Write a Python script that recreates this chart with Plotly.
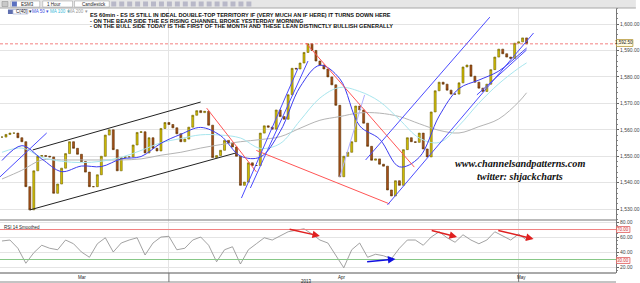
import plotly.graph_objects as go
from plotly.subplots import make_subplots

# ---------------- data ----------------
bars = list(range(133))
close = [1557.25, 1558.25, 1558.75, 1558.75, 1557.0, 1555.5, 1538.5, 1529.75, 1544.5, 1550.0,
         1550.25, 1550.0, 1549.75, 1536.0, 1539.5, 1545.5, 1551.0, 1555.5, 1553.0, 1550.75,
         1548.0, 1544.0, 1538.5, 1538.5, 1543.0, 1550.0, 1558.0, 1560.0, 1552.5, 1544.5,
         1549.5, 1549.75, 1549.75, 1554.25, 1559.0, 1559.25, 1551.25, 1557.0, 1553.0, 1552.0,
         1560.5, 1562.75, 1562.0, 1560.75, 1558.5, 1555.5, 1556.5, 1561.0, 1565.5, 1567.25,
         1566.5, 1567.0, 1561.75, 1549.5, 1550.25, 1552.25, 1556.0, 1555.0, 1553.5, 1550.0,
         1539.0, 1540.25, 1547.5, 1546.5, 1546.5, 1558.75, 1561.5, 1561.0, 1560.25, 1567.5,
         1565.0, 1564.0, 1573.25, 1583.25, 1583.0, 1585.25, 1589.25, 1592.5, 1590.0, 1586.0,
         1584.5, 1583.0, 1580.0, 1577.0, 1569.25, 1542.25, 1550.0, 1551.5, 1555.5, 1569.0,
         1567.5, 1562.5, 1553.75, 1548.5, 1549.0, 1547.0, 1546.25, 1537.25, 1535.0, 1540.75,
         1539.0, 1552.5, 1557.0, 1555.5, 1555.25, 1558.75, 1552.75, 1549.75, 1566.75, 1574.75,
         1578.0, 1577.25, 1575.0, 1573.5, 1573.5, 1577.75, 1583.75, 1584.5, 1580.25, 1578.0,
         1575.75, 1574.5, 1577.25, 1582.75, 1587.5, 1590.5, 1588.75, 1587.5, 1587.0, 1592.75,
         1593.25, 1594.75, 1592.5]
open_ = [close[0]] + close[:-1]
high = [max(o, c) for o, c in zip(open_, close)]
low = [min(o, c) for o, c in zip(open_, close)]

ma_bars = [0, 5, 10, 15, 20, 25, 30, 35, 40, 45, 50, 55, 60, 65, 70, 75, 80, 85, 90, 95,
           100, 105, 110, 115, 120, 125, 130, 132]
ma50 = [1548.4, 1554.0, 1549.0, 1544.2, 1546.3, 1546.1, 1549.0, 1549.9, 1554.9, 1558.3,
        1560.9, 1557.8, 1550.1, 1549.7, 1559.4, 1576.2, 1584.4, 1579.3, 1561.5, 1556.5,
        1546.0, 1549.6, 1565.2, 1575.6, 1578.8, 1582.2, 1588.3, 1590.9]
ma100 = [1551.5, 1553.1, 1549.6, 1548.1, 1547.6, 1548.1, 1549.6, 1552.2, 1555.1, 1556.7,
         1558.1, 1558.0, 1556.9, 1553.0, 1554.8, 1563.5, 1572.0, 1576.0, 1574.5, 1570.7,
         1563.9, 1556.9, 1555.2, 1561.6, 1570.1, 1577.4, 1583.3, 1585.3]
ma200 = [1541.4, 1544.7, 1548.6, 1548.6, 1548.6, 1548.6, 1548.6, 1549.0, 1550.4, 1551.5,
         1553.1, 1554.4, 1555.5, 1556.3, 1557.4, 1560.6, 1563.6, 1565.0, 1566.4, 1566.3,
         1565.0, 1562.3, 1559.8, 1558.8, 1561.2, 1564.1, 1570.5, 1574.0]

rsi_bars = list(range(0, 133, 2))
rsi = [54.7, 56, 45, 25, 39, 49, 45, 43, 56, 51, 40, 33, 51, 59, 40, 52, 56, 59, 36, 52,
       60, 61, 43, 45, 56, 60, 49, 27, 43, 47, 24, 43, 51, 59, 56, 61, 67, 69, 71, 64,
       56, 52, 36, 19, 43, 52, 33, 37, 35, 31, 45, 56, 56, 49, 60, 67, 59, 53, 63, 56,
       51, 56, 67, 61, 56, 64, 56]

last_price = 1592.5
price_ticks = [1530, 1540, 1550, 1560, 1570, 1580, 1590, 1600]
rsi_ticks = [20, 40, 60, 80]
rsi_levels = [70, 30]

# trendlines: (bar0, price0, bar1, price1, colour)
trendlines = [
    (7.75, 1552.4, 50.0, 1570.5, "#222222"),
    (7.0, 1529.7, 58.75, 1551.2, "#222222"),
    (-0.5, 1542.2, 11.25, 1558.8, "#4b4bff"),
    (51.5, 1568.2, 64.0, 1544.1, "#ff5555"),
    (64.0, 1552.2, 97.5, 1532.0, "#ff5555"),
    (76.5, 1592.8, 103.75, 1545.9, "#ff5555"),
    (60.25, 1534.2, 74.5, 1583.3, "#4b4bff"),
    (62.5, 1538.0, 77.0, 1586.0, "#4b4bff"),
    (85.0, 1542.2, 91.25, 1573.2, "#b0b0ff"),
    (91.5, 1548.6, 122.75, 1602.6, "#4b4bff"),
    (97.0, 1531.6, 133.75, 1596.6, "#4b4bff"),
    (119.5, 1573.2, 132.0, 1590.2, "#4b4bff"),
]
# RSI divergence arrows: (bar0, rsi0, bar1, rsi1, colour)
rsi_arrows = [
    (72.0, 70.7, 80.0, 61.3, "#e02020"),
    (107.75, 69.3, 114.5, 60.0, "#e02020"),
    (124.5, 69.3, 133.75, 57.3, "#e02020"),
    (91.5, 26.7, 99.0, 30.7, "#1010e0"),
]
month_labels = ["Mar", "Apr", "May"]
month_pos = [20.25, 85.5, 130.75]
month_bounds = [42, 130]
year_label = "2013"
year_pos = 76.5

title_lines = [
    "ES 60min - ES IS STILL IN IDEAL DOUBLE-TOP TERRITORY IF (VERY MUCH AN IF HERE) IT TURNS DOWN HERE",
    "- ON THE BEAR SIDE THE ES RISING CHANNEL BROKE YESTERDAY MORNING",
    "- ON THE BULL SIDE TODAY IS THE FIRST OF THE MONTH AND THESE LEAN DISTINCTLY BULLISH GENERALLY",
]

# ---------------- layout geometry ----------------
W, H = 640, 283
ML, MR, MT, MB = 0, 20, 8, 10
PW, PH = W - ML - MR, H - MT - MB


def px(x):
    return (x - ML) / PW


def py(y):
    return (H - MB - y) / PH


fig = make_subplots(rows=2, cols=1, shared_xaxes=True, vertical_spacing=0)

fig.add_trace(go.Candlestick(
    x=bars, open=open_, high=high, low=low, close=close,
    increasing=dict(fillcolor="#d6c400", line=dict(color="#6e5e00", width=0.6)),
    decreasing=dict(fillcolor="#a8501a", line=dict(color="#5a3200", width=0.6)),
    whiskerwidth=0, showlegend=False, hoverinfo="skip"), row=1, col=1)

for vals, col in [(ma200, "#b4b4b4"), (ma100, "#a8e6ee"), (ma50, "#3c3cf0")]:
    fig.add_trace(go.Scatter(x=ma_bars, y=vals, mode="lines", line=dict(color=col, width=1, shape="spline"),
                             showlegend=False, hoverinfo="skip"), row=1, col=1)

fig.add_trace(go.Scatter(x=rsi_bars, y=rsi, mode="lines", line=dict(color="#8a8a8a", width=0.8),
                         showlegend=False, hoverinfo="skip"), row=2, col=1)

# horizontal last-price line
fig.add_shape(type="line", xref="paper", yref="y", x0=0, x1=1, y0=last_price, y1=last_price,
              line=dict(color="#f06060", width=0.8, dash="3px,2px"))

for b0, p0, b1, p1, c in trendlines:
    fig.add_shape(type="line", xref="x", yref="y", x0=b0, y0=p0, x1=b1, y1=p1,
                  line=dict(color=c, width=1))

for lv, c in zip(rsi_levels, ["#f08080", "#88c888"]):
    fig.add_shape(type="line", xref="paper", yref="y2", x0=0, x1=1, y0=lv, y1=lv,
                  line=dict(color=c, width=1))

for b0, r0, b1, r1, c in rsi_arrows:
    fig.add_annotation(x=b1, y=r1, ax=b0, ay=r0, xref="x2", yref="y2", axref="x2", ayref="y2",
                       showarrow=True, arrowhead=2, arrowsize=1, arrowwidth=1.5, arrowcolor=c, text="")

# axes
fig.update_xaxes(range=[-0.5, 154.5], showticklabels=False, showgrid=True, gridcolor="#e4e4e4",
                 tickvals=month_bounds, zeroline=False, rangeslider_visible=False, showline=False,
                 ticks="")
fig.update_yaxes(side="right", showgrid=True, gridcolor="#e4e4e4", zeroline=False,
                 ticks="outside", ticklen=2, tickcolor="#666", showline=True, linecolor="#777",
                 linewidth=1, tickfont=dict(family="Liberation Sans", size=5, color="#444"),
                 minor=dict(ticks="outside", ticklen=1, tickcolor="#888"))
fig.update_layout(
    yaxis=dict(domain=[0.2, 1], range=[1525.9, 1606.05], tickvals=price_ticks, tickformat=",.2f",
               minor=dict(dtick=2)),
    yaxis2=dict(domain=[0, 0.2], range=[12, 82.7], tickvals=rsi_ticks, tickformat=".2f",
                minor=dict(dtick=5)),
)

shapes = []
# toolbar
shapes.append(dict(type="rect", xref="paper", yref="paper", x0=0, x1=px(W), y0=py(8), y1=py(0),
                   fillcolor="#e6e6e6", line=dict(width=0), layer="above"))
shapes.append(dict(type="line", xref="paper", yref="paper", x0=0, x1=px(W), y0=py(8), y1=py(8),
                   line=dict(color="#a8a8a8", width=1)))
for x0, x1 in [(11, 40), (43, 73), (75, 110)]:
    shapes.append(dict(type="rect", xref="paper", yref="paper", x0=px(x0), x1=px(x1), y0=py(7), y1=py(1),
                       fillcolor="white", line=dict(color="#9a9a9a", width=0.5)))
for x0 in range(112, 250, 8):
    shapes.append(dict(type="rect", xref="paper", yref="paper", x0=px(x0), x1=px(x0 + 5), y0=py(6.5), y1=py(1.5),
                       fillcolor="#b8b8c8", line=dict(width=0)))
shapes.append(dict(type="rect", xref="paper", yref="paper", x0=px(12), x1=px(17), y0=py(6.5), y1=py(1.5),
                   fillcolor="#5a70c0", line=dict(width=0)))
shapes.append(dict(type="rect", xref="paper", yref="paper", x0=px(2), x1=px(8), y0=py(6.5), y1=py(1.5),
                   fillcolor="#c8c8c8", line=dict(color="#888", width=0.5)))
# legend row boxes
shapes.append(dict(type="rect", xref="paper", yref="paper", x0=px(8), x1=px(13), y0=py(14), y1=py(9.5),
                   fillcolor="#6070b0", line=dict(width=0)))
shapes.append(dict(type="rect", xref="paper", yref="paper", x0=px(13), x1=px(28), y0=py(14), y1=py(9.5),
                   fillcolor="white", line=dict(color="#8090c0", width=0.5)))
# bottom axis lines
shapes.append(dict(type="line", xref="paper", yref="paper", x0=0, x1=1, y0=py(273), y1=py(273),
                   line=dict(color="#555", width=1)))
shapes.append(dict(type="line", xref="paper", yref="paper", x0=0, x1=1, y0=py(282), y1=py(282),
                   line=dict(color="#888", width=1)))
shapes.append(dict(type="line", xref="paper", yref="paper", x0=0, x1=1, y0=py(220), y1=py(220),
                   line=dict(color="#777", width=1)))
for b in month_bounds:
    shapes.append(dict(type="line", xref="x2", yref="paper", x0=b, x1=b, y0=py(282), y1=py(273),
                       line=dict(color="#777", width=1)))
# price box on axis
shapes.append(dict(type="rect", xref="paper", yref="paper", x0=px(620.5), x1=px(637), y0=py(46.5), y1=py(39.5),
                   fillcolor="#fffbe0", line=dict(color="#b89a40", width=0.8)))
for yy in [229.5, 260.5]:
    shapes.append(dict(type="rect", xref="paper", yref="paper", x0=px(620.5), x1=px(634), y0=py(yy + 3), y1=py(yy - 3),
                       fillcolor="#fff4f4", line=dict(color="#e06060", width=0.8)))
fig.update_layout(shapes=list(fig.layout.shapes) + shapes)

ann = []
tb_font = dict(family="Liberation Sans", size=4.5, color="#222")
ann.append(dict(x=px(19), y=py(4), text="ESM3", xanchor="left"))
ann.append(dict(x=px(45), y=py(4), text="1 Hour", xanchor="left"))
ann.append(dict(x=px(81), y=py(4), text="Candlestick", xanchor="left"))
ann.append(dict(x=px(14), y=py(11.8), text="C(40) ▾", xanchor="left"))
ann.append(dict(x=px(30), y=py(11.8), text="MA 50 ▾", xanchor="left", font=dict(family="Liberation Sans", size=4.5, color="#4050e0")))
ann.append(dict(x=px(48), y=py(11.8), text="MA 100 ▾", xanchor="left", font=dict(family="Liberation Sans", size=4.5, color="#40b8d8")))
ann.append(dict(x=px(66), y=py(11.8), text="MA 200 ▾", xanchor="left", font=dict(family="Liberation Sans", size=4.5, color="#999")))
ann.append(dict(x=px(2), y=py(227), text="RSI 14 Smoothed", xanchor="left"))
ann.append(dict(x=px(628.5), y=py(43), text="1,592.50", xanchor="center", font=dict(family="Liberation Sans", size=4.5, color="#222")))
ann.append(dict(x=px(627), y=py(229.5), text="70.00", xanchor="center", font=dict(family="Liberation Sans", size=4.5, color="#d04040")))
ann.append(dict(x=px(627), y=py(260.5), text="30.00", xanchor="center", font=dict(family="Liberation Sans", size=4.5, color="#d04040")))
for a in ann:
    a.setdefault("font", tb_font)
    a.update(xref="paper", yref="paper", yanchor="middle", showarrow=False)
    fig.add_annotation(**a)

for i, (t, yy) in enumerate(zip(title_lines, [15, 20.7, 26.2])):
    fig.add_annotation(xref="paper", yref="paper", x=px(89), y=py(yy), text=t, xanchor="left", yanchor="middle",
                       showarrow=False, font=dict(family="Liberation Sans", size=5.6, color="#111", weight="bold"))

for t, yy, xx in [("www.channelsandpatterns.com", 163, 523), ("twitter: shjackcharts", 176, 523)]:
    fig.add_annotation(xref="paper", yref="paper", x=px(xx), y=py(yy), text=t, xanchor="center", yanchor="middle",
                       showarrow=False,
                       font=dict(family="Liberation Serif", size=10.2, color="#111", weight="bold", style="italic"))

for lbl, pos in zip(month_labels, month_pos):
    fig.add_annotation(xref="x2", yref="paper", x=pos, y=py(277), text=lbl, showarrow=False, yanchor="middle",
                       font=dict(family="Liberation Sans", size=4.5, color="#222"))
fig.add_annotation(xref="x2", yref="paper", x=year_pos, y=py(281), text=year_label, showarrow=False,
                   yanchor="middle", font=dict(family="Liberation Sans", size=4.5, color="#222"))

fig.update_layout(width=W, height=H, margin=dict(l=ML, r=MR, t=MT, b=MB),
                  plot_bgcolor="white", paper_bgcolor="white", showlegend=False)

fig.write_html("out.html")
